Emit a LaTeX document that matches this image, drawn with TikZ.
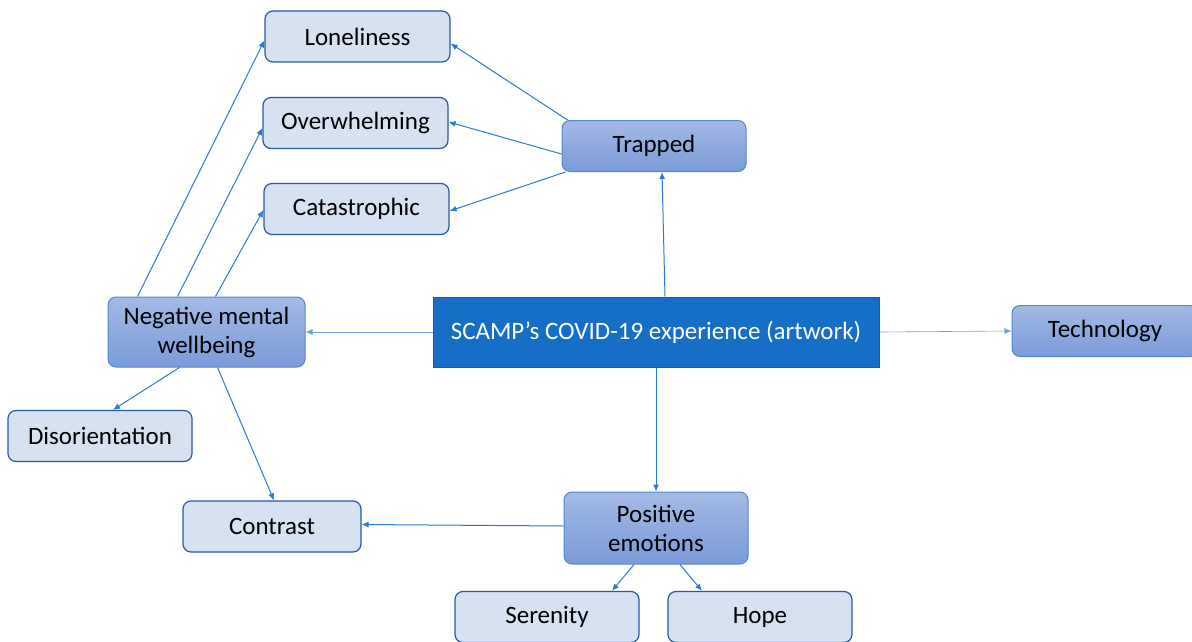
\documentclass[tikz,border=0pt]{standalone}
\usepackage{fontspec}
\setmainfont{Carlito}
\usetikzlibrary{arrows.meta,calc}
\definecolor{lightfill}{RGB}{214,226,242}
\definecolor{lightborder}{RGB}{40,90,160}
\definecolor{gradtop}{RGB}{163,186,228}
\definecolor{gradbot}{RGB}{122,155,216}
\definecolor{gradborder}{RGB}{80,135,210}
\definecolor{mainfill}{RGB}{22,110,198}
\definecolor{mainborder}{RGB}{20,90,170}
\definecolor{arrowc}{RGB}{40,122,210}
\tikzset{
  lightbox/.style={draw=lightborder, line width=1.2pt, fill=lightfill, rounded corners=8pt, minimum width=185pt, minimum height=51pt, inner sep=0pt, font=\fontsize{25}{29}\selectfont, align=center},
  gradbox/.style={draw=gradborder, line width=1pt, top color=gradtop, bottom color=gradbot, rounded corners=8pt, minimum width=184pt, minimum height=51pt, inner sep=0pt, font=\fontsize{25}{29}\selectfont, align=center},
  mainbox/.style={draw=mainborder, line width=1pt, fill=mainfill, text=white, minimum width=446pt, minimum height=70pt, inner sep=0pt, font=\fontsize{25}{29}\selectfont},
  conn/.style={draw=arrowc, line width=1pt, -{Latex[length=7pt,width=6pt]}},
  thinconn/.style={draw=arrowc!70, line width=0.6pt, -{Latex[length=7pt,width=6pt]}}
}
\begin{document}
\begin{tikzpicture}[x=1pt,y=-1pt]
\useasboundingbox (0,0) rectangle (1192,642);
\node[lightbox] (lone) at (357.5,36.5) {Loneliness};
\node[lightbox] (over) at (355.5,123) {Overwhelming};
\node[lightbox] (cata) at (356.5,209) {Catastrophic};
\node[gradbox] (trap) at (654,146) {Trapped};
\node[mainbox] (main) at (656,332) {SCAMP’s COVID-19 experience (artwork)};
\node[gradbox, minimum width=197pt, minimum height=70pt] (neg) at (206.5,332) {Negative mental\\wellbeing};
\node[gradbox, minimum width=186pt] (tech) at (1105,331) {Technology};
\node[lightbox, minimum width=184pt] (dis) at (100,436) {Disorientation};
\node[lightbox, minimum width=178pt] (con) at (272,526.5) {Contrast};
\node[gradbox, minimum height=72pt] (pos) at (656,528) {Positive\\emotions};
\node[lightbox, minimum width=184pt] (ser) at (547,617) {Serenity};
\node[lightbox, minimum width=184pt] (hope) at (760,617) {Hope};

\draw[conn] ([xshift=6pt]trap.north west) -- ([yshift=-7pt]lone.east);
\draw[conn] ([yshift=-8pt]trap.west) -- ([yshift=1pt]over.east);
\draw[conn] ([xshift=4pt]trap.south west) -- ([yshift=-2pt]cata.east);
\draw[conn] ([xshift=9pt]main.north) -- ([xshift=8pt]trap.south);
\draw[thinconn] (main.west) -- (neg.east);
\draw[thinconn] (main.east) -- ([yshift=0pt]tech.west);
\draw[conn] (main.south) -- (pos.north);
\draw[conn] ([xshift=30pt]neg.north west) -- ([yshift=-4pt]lone.west);
\draw[conn] ([xshift=70pt]neg.north west) -- ([yshift=-5pt]over.west);
\draw[conn] ([xshift=108pt]neg.north west) -- ([yshift=-1pt]cata.west);
\draw[conn] ([xshift=72pt]neg.south west) -- ([xshift=13pt]dis.north);
\draw[conn] ([xshift=110pt]neg.south west) -- ([xshift=2pt]con.north);
\draw[conn] ([yshift=2pt]pos.west) -- ([yshift=2pt]con.east);
\draw[conn] ([xshift=-22pt]pos.south) -- ([xshift=65pt]ser.north);
\draw[conn] ([xshift=24pt]pos.south) -- ([xshift=-58pt]hope.north);
\end{tikzpicture}
\end{document}
